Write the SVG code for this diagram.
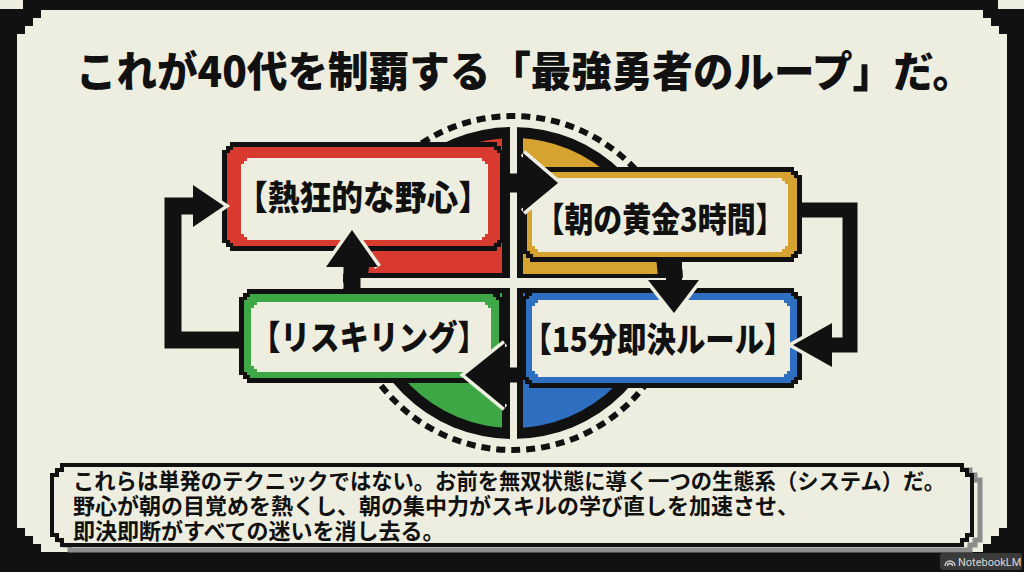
<svg xmlns="http://www.w3.org/2000/svg" width="1024" height="572" viewBox="0 0 1024 572">
  <defs>
    <style>
      .jp { font-family: "Noto Sans CJK JP", "Noto Sans", sans-serif; fill: #111; }
      .title { font-size: 42px; font-weight: 900; }
      .label { font-size: 34px; font-weight: 900; text-anchor: middle; }
      .body { font-size: 22px; font-weight: 700; }
      .bk { fill: #111; }
      .cream { fill: #EEEEE0; }
      .shaft { fill: none; stroke: #111; stroke-linejoin: miter; }
      .halo { fill: none; stroke: #EEEEE0; stroke-width: 7; stroke-linejoin: miter; }
    </style>
    <clipPath id="qTL"><rect x="0" y="0" width="502" height="273"/></clipPath>
    <clipPath id="qTR"><rect x="523" y="0" width="501" height="274"/></clipPath>
    <clipPath id="qBL"><rect x="0" y="293" width="502" height="300"/></clipPath>
    <clipPath id="qBR"><rect x="523" y="293" width="501" height="300"/></clipPath>
  </defs>

  <!-- frame -->
  <rect x="0" y="0" width="1024" height="572" fill="#111"/>
  <path class="cream" d="M41,10H983v8h8v8h8v8h8V528h-8v8h-8v8h-8v8H41v-8h-8v-8h-8v-8h-8V34h8v-8h8v-8h8Z"/>
  <rect class="cream" x="0" y="0" width="23" height="9"/>
  <rect class="cream" x="998" y="0" width="26" height="9"/>

  <!-- title -->
  <text class="jp title" x="76" y="87" textLength="897" lengthAdjust="spacingAndGlyphs">これが40代を制覇する「最強勇者のループ」だ。</text>

  <!-- cycle background -->
  <g id="cycle-ring">
    <circle cx="513" cy="283" r="167" fill="none" stroke="#111" stroke-width="6" stroke-dasharray="9 6"/>
    <circle cx="513" cy="283" r="156" fill="#111"/>
    <circle cx="513" cy="283" r="145" fill="#D93A2F" clip-path="url(#qTL)"/>
    <circle cx="513" cy="283" r="145" fill="#D6A330" clip-path="url(#qTR)"/>
    <circle cx="513" cy="283" r="145" fill="#3DA845" clip-path="url(#qBL)"/>
    <circle cx="513" cy="283" r="145" fill="#2E6FC2" clip-path="url(#qBR)"/>
    <rect class="cream" x="510" y="124" width="7" height="318"/>
    <rect class="cream" x="352" y="278" width="322" height="10"/>
  </g>

  <!-- nodes -->
  <g id="node-yashin">
    <path class="bk" d="M230,142H497v4h4v4h4V243h-4v4h-4v4H230v-4h-4v-4h-4V150h4v-4h4Z"/>
    <path fill="#D93A2F" d="M233,147H494v3h3v3h3V240h-3v3h-3v3H233v-3h-3v-3h-3V153h3v-3h3Z"/>
    <path class="cream" d="M247,158H482v3h3v3h3V234h-3v3h-3v3H247v-3h-3v-3h-3V164h3v-3h3Z"/>
    <text class="jp label" x="363" y="210" textLength="254" lengthAdjust="spacingAndGlyphs">【熱狂的な野心】</text>
  </g>

  <g id="node-asa">
    <path class="bk" d="M530,167H794v4h4v4h4V254h-4v4h-4v4H530v-4h-4v-4h-4V175h4v-4h4Z"/>
    <path fill="#D6A330" d="M533,172H791v3h3v3h3V251h-3v3h-3v3H533v-3h-3v-3h-3V178h3v-3h3Z"/>
    <path class="cream" d="M538,178H782v3h3v3h3V246h-3v3h-3v3H538v-3h-3v-3h-3V184h3v-3h3Z"/>
    <text class="jp label" x="660" y="232" textLength="249" lengthAdjust="spacingAndGlyphs">【朝の黄金3時間】</text>
  </g>

  <g id="node-reskilling">
    <path class="bk" d="M247,289H496v4h4v4h4V375h-4v4h-4v4H247v-4h-4v-4h-4V297h4v-4h4Z"/>
    <path fill="#3DA845" d="M250,294H493v3h3v3h3V372h-3v3h-3v3H250v-3h-3v-3h-3V300h3v-3h3Z"/>
    <path class="cream" d="M257,302H485v3h3v3h3V366h-3v3h-3v3H257v-3h-3v-3h-3V308h3v-3h3Z"/>
    <text class="jp label" x="369" y="350" textLength="236" lengthAdjust="spacingAndGlyphs">【リスキリング】</text>
  </g>

  <g id="node-15min">
    <path class="bk" d="M529,288H794v4h4v4h4V380h-4v4h-4v4H529v-4h-4v-4h-4V296h4v-4h4Z"/>
    <path fill="#2E6FC2" d="M532,293H791v3h3v3h3V377h-3v3h-3v3H532v-3h-3v-3h-3V299h3v-3h3Z"/>
    <path class="cream" d="M538,300H784v3h3v3h3V371h-3v3h-3v3H538v-3h-3v-3h-3V306h3v-3h3Z"/>
    <text class="jp label" x="658" y="352" textLength="271" lengthAdjust="spacingAndGlyphs">【15分即決ルール】</text>
  </g>

  <!-- connectors -->
  <g id="connectors">
    <!-- yashin -> asa -->
    <path class="shaft" stroke-width="19" d="M503,183H525"/>
    <polyline class="halo" points="523,153 558,183 523,212"/>
    <polygon class="bk" points="523,153 558,183 523,212"/>
    <!-- asa -> 15min (right loop) -->
    <path class="shaft" stroke-width="15" d="M800,210H850V345H830"/>
    <polyline class="halo" points="832,323 793,345 832,367"/>
    <polygon class="bk" points="832,323 793,345 832,367"/>
    <!-- asa -> 15min (down) -->
    <path class="shaft" stroke-width="16" d="M674,260V282"/>
    <polyline class="halo" points="648,280 674,313 699,280"/>
    <polygon class="bk" points="648,280 674,313 699,280"/>
    <!-- 15min -> reskilling -->
    <path class="shaft" stroke-width="15" d="M523,375H503"/>
    <polyline class="halo" points="505,343 465,375 505,408"/>
    <polygon class="bk" points="505,343 465,375 505,408"/>
    <!-- reskilling -> yashin (up) -->
    <path class="shaft" stroke-width="17" d="M352,291V265"/>
    <polyline class="halo" points="326,267 352,230 378,267"/>
    <polygon class="bk" points="326,267 352,230 378,267"/>
    <!-- reskilling -> yashin (left loop) -->
    <path class="shaft" stroke-width="17" d="M241,340H173V206H195"/>
    <polyline class="halo" points="193,185 224,206 193,227"/>
    <polygon class="bk" points="193,185 224,206 193,227"/>
  </g>

  <!-- summary box -->
  <g id="summary">
    <path fill="#EEEEE0" stroke="#8c8c8c" stroke-width="5" d="M70,470H970v5h5v5h5V540h-5v5h-5v5H70v-5h-5v-5h-5V480h5v-5h5Z"/>
    <path fill="#EEEEE0" stroke="#111" stroke-width="4" d="M62,465H962v5h5v5h5V535h-5v5h-5v5H62v-5h-5v-5h-5V475h5v-5h5Z"/>
    <text class="jp body" x="73" y="489" textLength="872" lengthAdjust="spacingAndGlyphs">これらは単発のテクニックではない。お前を無双状態に導く一つの生態系（システム）だ。</text>
    <text class="jp body" x="73" y="514">野心が朝の目覚めを熱くし、朝の集中力がスキルの学び直しを加速させ、</text>
    <text class="jp body" x="73" y="539">即決即断がすべての迷いを消し去る。</text>
  </g>

  <!-- watermark -->
  <g id="watermark">
    <rect x="940" y="553" width="82" height="17" rx="3" fill="#3a3a3a"/>
    <path d="M945,566a5,5 0 0 1 10,0M947.5,566a2.5,2.5 0 0 1 5,0" fill="none" stroke="#cfcfcf" stroke-width="1.3"/>
    <text x="958" y="565.5" font-family="Roboto, 'Liberation Sans', sans-serif" font-size="11" fill="#d8d8d8">NotebookLM</text>
  </g>
</svg>
